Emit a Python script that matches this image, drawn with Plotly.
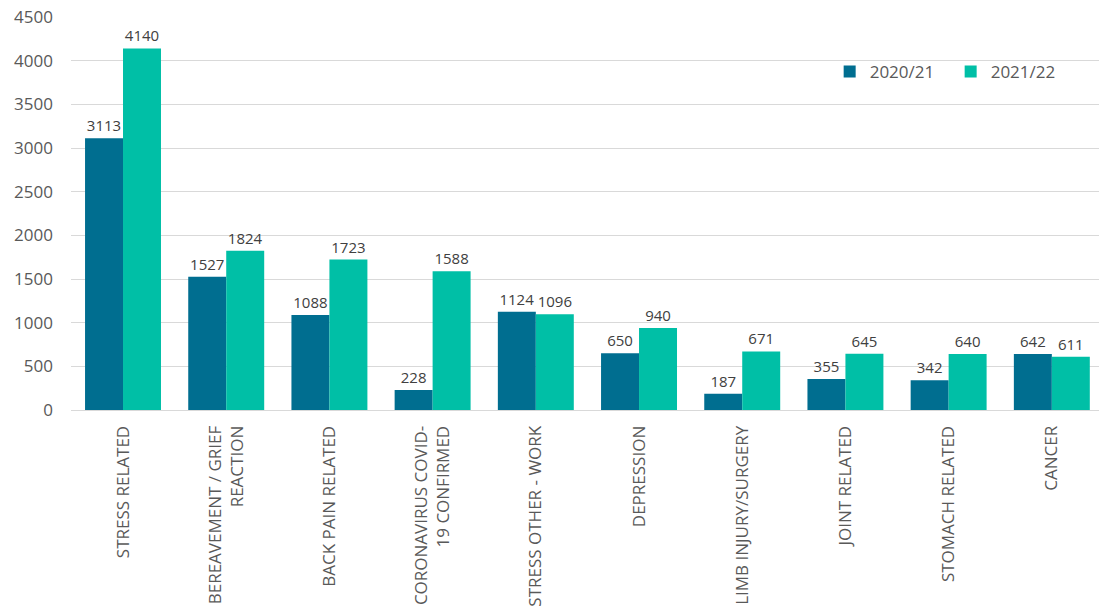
import plotly.graph_objects as go

categories = ["STRESS RELATED", "BEREAVEMENT / GRIEF<br>REACTION", "BACK PAIN RELATED",
              "CORONAVIRUS COVID-<br>19 CONFIRMED", "STRESS OTHER - WORK", "DEPRESSION",
              "LIMB INJURY/SURGERY", "JOINT RELATED", "STOMACH RELATED", "CANCER"]
values_2021 = [3113, 1527, 1088, 228, 1124, 650, 187, 355, 342, 642]
values_2122 = [4140, 1824, 1723, 1588, 1096, 940, 671, 645, 640, 611]
series_names = ["2020/21", "2021/22"]
y_ticks = [0, 500, 1000, 1500, 2000, 2500, 3000, 3500, 4000, 4500]

font_family = "Open Sans, DejaVu Sans, sans-serif"

fig = go.Figure()
fig.add_trace(go.Bar(x=categories, y=values_2021, name=series_names[0],
                     marker=dict(color="#006E90", line=dict(width=0)),
                     text=values_2021, textposition="outside", cliponaxis=False,
                     textfont=dict(size=15, color="#404040", family=font_family)))
fig.add_trace(go.Bar(x=categories, y=values_2122, name=series_names[1],
                     marker=dict(color="#00BFA6", line=dict(width=0)),
                     text=values_2122, textposition="outside", cliponaxis=False,
                     textfont=dict(size=15, color="#404040", family=font_family)))

fig.update_layout(
    width=1099, height=616,
    barmode="group", bargap=0.264, bargroupgap=0,
    plot_bgcolor="white", paper_bgcolor="white",
    margin=dict(l=71, r=0, t=17, b=206, autoexpand=False),
    font=dict(family=font_family, color="#595959"),
    showlegend=True,
    legend=dict(orientation="h", x=0.738, y=0.86, xanchor="left", yanchor="middle",
                font=dict(size=17, color="#595959"), itemwidth=30,
                entrywidth=76, entrywidthmode="pixels",
                bgcolor="rgba(0,0,0,0)"),
)
fig.update_yaxes(range=[0, 4500], tickvals=y_ticks, showgrid=True, gridcolor="#D9D9D9",
                 gridwidth=1, zeroline=False, showline=False, ticklabeloverflow="allow",
                 tickfont=dict(size=17, color="#595959"), ticklabelstandoff=17)
fig.update_xaxes(range=[-0.504, 9.457], tickangle=-90, showline=True, linecolor="#D9D9D9",
                 linewidth=1, tickfont=dict(size=17, color="#595959"), ticks="",
                 ticklabelstandoff=8)

fig.write_html("out.html", config={"displayModeBar": False},
               post_script="document.body.style.margin='0';document.body.style.overflow='hidden';")
